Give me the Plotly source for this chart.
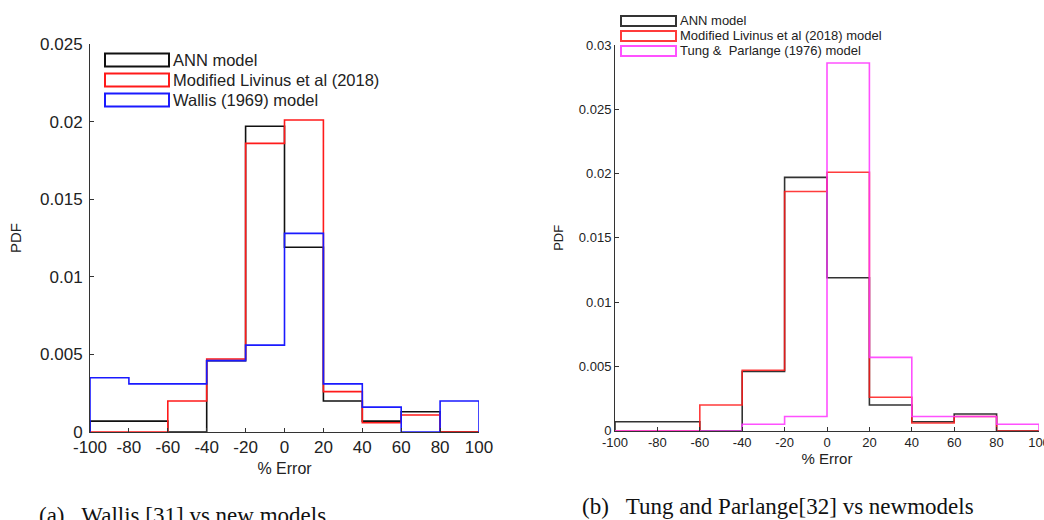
import plotly.graph_objects as go

W, H = 1044, 520

# ---- data ----
bin_edges = [-100, -80, -60, -40, -20, 0, 20, 40, 60, 80, 100]

ann_pdf = [0.0007, 0.0007, 0.0, 0.0046, 0.0197, 0.0119, 0.0020, 0.0007, 0.0013, 0.0]
livinus_pdf = [0.0, 0.0, 0.0020, 0.0047, 0.0186, 0.0201, 0.0026, 0.0006, 0.0011, 0.0]
wallis_pdf = [0.0035, 0.0031, 0.0031, 0.0046, 0.0056, 0.0128, 0.0031, 0.0016, 0.0, 0.0020]
tung_pdf = [0.0, 0.0, 0.0, 0.0005, 0.0011, 0.0286, 0.0057, 0.0011, 0.0011, 0.0005]

left_names = ["ANN model", "Modified Livinus et al (2018)", "Wallis (1969) model"]
right_names = ["ANN model", "Modified Livinus et al (2018) model", "Tung &  Parlange (1976) model"]

x_ticks = [-100, -80, -60, -40, -20, 0, 20, 40, 60, 80, 100]
x_tick_labels = ["-100", "-80", "-60", "-40", "-20", "0", "20", "40", "60", "80", "100"]
left_y_ticks = [0, 0.005, 0.01, 0.015, 0.02, 0.025]
left_y_labels = ["0", "0.005", "0.01", "0.015", "0.02", "0.025"]
right_y_ticks = [0, 0.005, 0.01, 0.015, 0.02, 0.025, 0.03]
right_y_labels = ["0", "0.005", "0.01", "0.015", "0.02", "0.025", "0.03"]

caption_a = "(a)   Wallis [31] vs new models"
caption_b = "(b)   Tung and Parlange[32] vs newmodels"

BLACK, RED, BLUE, MAGENTA = "#111111", "#ff1a1a", "#1a1aff", "#ff33ff"


def px(x):
    return x / W


def py(y):
    return 1 - y / H


def stairs(values):
    xs = [bin_edges[0]] + bin_edges[:-1] + [bin_edges[-1]]
    ys = [0] + list(values) + [0]
    return xs, ys


fig = go.Figure()

left_series = [(ann_pdf, BLACK), (livinus_pdf, RED), (wallis_pdf, BLUE)]
right_series = [(ann_pdf, BLACK), (livinus_pdf, RED), (tung_pdf, MAGENTA)]

for (vals, col), name in zip(left_series, left_names):
    xs, ys = stairs(vals)
    fig.add_trace(go.Scatter(x=xs, y=ys, mode="lines", line=dict(color=col, width=1.6, shape="hv"),
                             name=name, showlegend=False, cliponaxis=False, xaxis="x", yaxis="y"))

for (vals, col), name in zip(right_series, right_names):
    xs, ys = stairs(vals)
    fig.add_trace(go.Scatter(x=xs, y=ys, mode="lines", line=dict(color=col, width=1.6, shape="hv"),
                             name=name, showlegend=False, cliponaxis=False, xaxis="x2", yaxis="y2",
                             opacity=0.85))

TXT = "#222222"
FONT = "Arial, Liberation Sans"
SERIF = "Liberation Serif, Times New Roman, serif"
axis_common = dict(showgrid=False, zeroline=False, showline=True, linecolor="#333333", linewidth=1,
                   ticks="inside", ticklen=4, tickcolor="#333333", mirror=False, automargin=False)

fig.update_layout(
    width=W, height=H,
    margin=dict(l=0, r=0, t=0, b=0, autoexpand=False),
    paper_bgcolor="white", plot_bgcolor="white",
    showlegend=False,
    xaxis=dict(domain=[px(90), px(479)], range=[-100, 100], tickvals=x_ticks, ticktext=x_tick_labels,
               anchor="y",
               tickfont=dict(family=FONT, size=17, color=TXT),
               title=dict(text="% Error", font=dict(family=FONT, size=16, color=TXT), standoff=6),
               **axis_common),
    yaxis=dict(domain=[py(432), py(44)], range=[0, 0.025], tickvals=left_y_ticks, ticktext=left_y_labels,
               anchor="x", ticklabelstandoff=3,
               tickfont=dict(family=FONT, size=17, color=TXT),
               title=dict(text="PDF", font=dict(family=FONT, size=15, color=TXT), standoff=14),
               **axis_common),
    xaxis2=dict(domain=[px(615), px(1039)], range=[-100, 100], tickvals=x_ticks, ticktext=x_tick_labels,
                anchor="y2", ticklabeloverflow="allow",
                tickfont=dict(family=FONT, size=13, color=TXT),
                title=dict(text="% Error", font=dict(family=FONT, size=15, color=TXT), standoff=2),
                **axis_common),
    yaxis2=dict(domain=[py(430.7), py(45)], range=[0, 0.03], tickvals=right_y_ticks, ticktext=right_y_labels,
                anchor="x2",
                tickfont=dict(family=FONT, size=13, color=TXT),
                title=dict(text="PDF", font=dict(family=FONT, size=13, color=TXT), standoff=12),
                **axis_common),
)

# ---- manual legends (outlined rectangles like the reference) ----
shapes = []
annotations = []
left_rows = [60, 80, 100]
for (vals, col), name, yc in zip(left_series, left_names, left_rows):
    shapes.append(dict(type="rect", xref="paper", yref="paper", x0=px(105), x1=px(169),
                       y0=py(yc + 6.5), y1=py(yc - 6.5), line=dict(color=col, width=2), fillcolor="rgba(0,0,0,0)"))
    annotations.append(dict(xref="paper", yref="paper", x=px(171), y=py(yc), text=name, showarrow=False,
                            xanchor="left", yanchor="middle",
                            font=dict(family=FONT, size=16.5, color=TXT)))

right_rows = [21, 36, 51]
for (vals, col), name, yc in zip(right_series, right_names, right_rows):
    shapes.append(dict(type="rect", xref="paper", yref="paper", x0=px(621), x1=px(676),
                       y0=py(yc + 5), y1=py(yc - 5), line=dict(color=col, width=2), fillcolor="rgba(0,0,0,0)",
                       opacity=0.85))
    annotations.append(dict(xref="paper", yref="paper", x=px(678), y=py(yc), text=name, showarrow=False,
                            xanchor="left", yanchor="middle",
                            font=dict(family=FONT, size=13, color=TXT)))

annotations.append(dict(xref="paper", yref="paper", x=px(37), y=py(515), text=caption_a, showarrow=False,
                        xanchor="left", yanchor="middle",
                        font=dict(family=SERIF, size=23, color="#111111")))
annotations.append(dict(xref="paper", yref="paper", x=px(580), y=py(506), text=caption_b, showarrow=False,
                        xanchor="left", yanchor="middle",
                        font=dict(family=SERIF, size=23, color="#111111")))

fig.update_layout(shapes=shapes, annotations=annotations)

fig.write_html("out.html")
